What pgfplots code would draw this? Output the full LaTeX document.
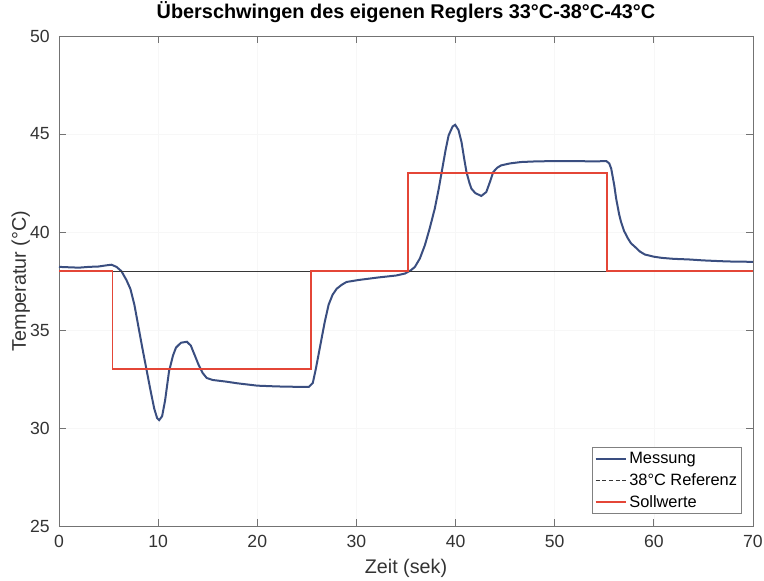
\documentclass[border=0pt]{standalone}
\usepackage{fontspec}
\setmainfont{Liberation Sans}
\usepackage{pgfplots}
\pgfplotsset{compat=1.18}
\definecolor{messung}{RGB}{58,78,128}
\definecolor{soll}{RGB}{228,70,55}
\definecolor{refc}{RGB}{55,55,55}
\begin{document}
\begin{tikzpicture}
\path[use as bounding box] (-44.25pt,-41.25pt) rectangle (528.75pt,394.5pt);
\begin{axis}[
  at={(0,0)}, anchor=south west,
  scale only axis, width=520.5pt, height=367.5pt,
  xmin=0, xmax=70, ymin=25, ymax=50,
  xtick={0,10,...,70}, ytick={25,30,...,50},
  tick align=inside, major tick length=5pt,
  axis line style={black!55, line width=0.6pt},
  tick style={black!55, line width=0.6pt},
  grid=major, grid style={black!3, line width=0.4pt},
  /pgf/number format/assume math mode=true,
  tick label style={font=\fontsize{13.2}{15}\selectfont, text=black!80, inner sep=0pt},
  xticklabel style={yshift=-6.75pt},
  yticklabel style={xshift=-6.75pt},
  title={Überschwingen des eigenen Reglers 33°C-38°C-43°C},
  title style={font=\fontsize{14.9}{18}\selectfont\bfseries, at={([yshift=6.75pt]axis description cs:0.5,1)}, anchor=base, inner sep=0pt},
  xlabel={Zeit (sek)},
  xlabel style={font=\fontsize{14.8}{18}\selectfont, text=black!80, at={([yshift=-35.6pt]axis description cs:0.5,0)}, anchor=base, inner sep=0pt},
  ylabel={Temperatur (°C)},
  ylabel style={font=\fontsize{14.8}{18}\selectfont, text=black!80, at={([xshift=-24.75pt]axis description cs:0,0.5)}, anchor=base, rotate=0, inner sep=0pt},
  legend cell align=left,
  legend image code/.code={\draw[#1] (0pt,0pt) -- (23pt,0pt);},
  legend style={at={([xshift=-8.25pt,yshift=9pt]axis description cs:1,0)}, anchor=south east,
    draw=black!50, fill=white, font=\fontsize{12.3}{14}\selectfont, inner xsep=2pt, inner ysep=2pt,
    nodes={inner sep=1.5pt}, row sep=3pt},
]
\addplot[messung, line width=1.5pt] coordinates {
(0,38.22) (1,38.20) (2,38.18) (3,38.22) (4,38.24) (4.8,38.30) (5.3,38.33) (5.8,38.22)
(6.3,38.0) (6.8,37.55) (7.2,37.1) (7.6,36.3) (8.0,35.2) (8.4,34.1) (8.8,33.05) (9.2,32.0)
(9.6,31.0) (9.9,30.5) (10.1,30.4) (10.4,30.6) (10.7,31.4) (11.1,32.9) (11.5,33.7) (11.8,34.1)
(12.3,34.35) (12.9,34.4) (13.3,34.2) (13.7,33.7) (14.1,33.2) (14.5,32.8) (14.9,32.55) (15.5,32.45)
(16.8,32.37) (18,32.28) (20,32.16) (22,32.12) (24,32.1) (25.2,32.1) (25.6,32.3) (25.9,33.0)
(26.2,33.8) (26.5,34.6) (26.8,35.4) (27.2,36.3) (27.6,36.8) (28.0,37.1) (28.5,37.3) (29,37.45)
(30.2,37.55) (32.2,37.68) (34,37.78) (34.9,37.88) (35.5,38.05) (35.9,38.22) (36.4,38.65) (36.9,39.32)
(37.4,40.2) (37.9,41.19) (38.3,42.2) (38.6,43.06) (39.0,44.2) (39.3,44.93) (39.7,45.38) (39.96,45.47)
(40.3,45.2) (40.6,44.59) (40.85,43.8) (41.1,43.06) (41.4,42.5) (41.6,42.21) (42.0,41.98) (42.6,41.84)
(43.1,42.04) (43.5,42.6) (43.8,43.06) (44.2,43.28) (44.6,43.4) (45.5,43.5) (46.6,43.57) (48,43.6)
(50,43.62) (52,43.62) (54,43.6) (55.2,43.62) (55.5,43.5) (55.7,43.23) (56.0,42.4) (56.2,41.7)
(56.5,40.9) (56.7,40.5) (57.0,40.05) (57.4,39.66) (57.7,39.42) (58.1,39.24) (58.6,39.0) (59.1,38.85)
(60,38.74) (60.8,38.68) (62,38.63) (63.5,38.6) (65,38.55) (66.8,38.51) (68,38.49) (69.7,38.48) (70,38.48)
};
\addlegendentry{Messung}
\addplot[refc, line width=0.8pt, forget plot] coordinates {(0,38) (70,38)};
\addlegendimage{refc, line width=0.8pt, dash pattern=on 3pt off 2pt}
\addlegendentry{38°C Referenz}
\addplot[soll, line width=1.2pt] coordinates {
(0,38) (5.4,38) (5.4,33) (25.4,33) (25.4,38) (35.2,38) (35.2,43) (55.3,43) (55.3,38) (70,38)
};
\addlegendentry{Sollwerte}
\end{axis}
\end{tikzpicture}
\end{document}
